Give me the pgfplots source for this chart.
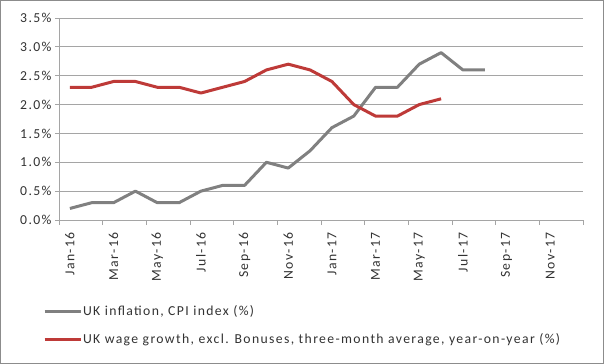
\documentclass[border=0pt]{standalone}
\usepackage{pgfplots}
\pgfplotsset{compat=1.18}
\usepackage{fontspec}
\setmainfont{Carlito}[LetterSpace=10]
\definecolor{cpigray}{RGB}{128,128,128}
\definecolor{wagered}{RGB}{190,58,56}
\definecolor{gridgray}{RGB}{165,165,165}
\definecolor{txt}{RGB}{50,50,50}
\begin{document}
\begin{tikzpicture}
\useasboundingbox (-59bp,-144bp) rectangle (545bp,220bp);
\draw[gray!90, line width=1bp] (-58.5bp,-143.5bp) rectangle (544.5bp,219.5bp);
\begin{axis}[
  at={(0bp,0bp)}, anchor=south west,
  scale only axis, width=524bp, height=202bp,
  xmin=-0.5, xmax=23.5, ymin=0, ymax=3.5,
  axis x line*=bottom, axis y line*=left,
  axis line style={gridgray, line width=0.8bp, -},
  xtick={0,2,...,22},
  xticklabels={Jan-16,Mar-16,May-16,Jul-16,Sep-16,Nov-16,Jan-17,Mar-17,May-17,Jul-17,Sep-17,Nov-17},
  major x tick style={draw=none},
  minor xtick={-0.5,1.5,...,23.5},
  minor x tick style={gridgray, line width=0.8bp},
  minor tick length=5bp,
  ytick={0,0.5,...,3.5},
  yticklabels={0.0\%,0.5\%,1.0\%,1.5\%,2.0\%,2.5\%,3.0\%,3.5\%},
  major y tick style={gridgray, line width=0.8bp},
  major tick length=4bp,
  tick align=outside,
  ymajorgrids, grid style={gridgray, line width=0.8bp},
  ticklabel style={font=\fontsize{13.7bp}{16bp}\selectfont, text=txt},
  xticklabel style={yshift=-5bp, rotate=90, anchor=east},
  yticklabel style={anchor=east},
  legend style={at={(-0.0305,-0.42)}, anchor=north west, draw=none, fill=none,
    font=\fontsize{13.7bp}{16bp}\selectfont, text=txt, inner sep=0pt, outer sep=0pt,
    nodes={inner sep=1bp}, row sep=14bp},
  legend cell align=left,
  legend image code/.code={\draw[#1] (0bp,0bp) -- (36bp,0bp);},
  clip=false,
]
\addplot[cpigray, line width=3bp, line join=round] coordinates {
(0,0.2) (1,0.3) (2,0.3) (3,0.5) (4,0.3) (5,0.3) (6,0.5) (7,0.6) (8,0.6) (9,1.0)
(10,0.9) (11,1.2) (12,1.6) (13,1.8) (14,2.3) (15,2.3) (16,2.7) (17,2.9) (18,2.6) (19,2.6)};
\addlegendentry{UK inflation, CPI index (\%)}
\addplot[wagered, line width=3bp, line join=round] coordinates {
(0,2.3) (1,2.3) (2,2.4) (3,2.4) (4,2.3) (5,2.3) (6,2.2) (7,2.3) (8,2.4) (9,2.6)
(10,2.7) (11,2.6) (12,2.4) (13,2.0) (14,1.8) (15,1.8) (16,2.0) (17,2.1)};
\addlegendentry{UK wage growth, excl. Bonuses, three-month average, year-on-year (\%)}
\end{axis}
\end{tikzpicture}
\end{document}
